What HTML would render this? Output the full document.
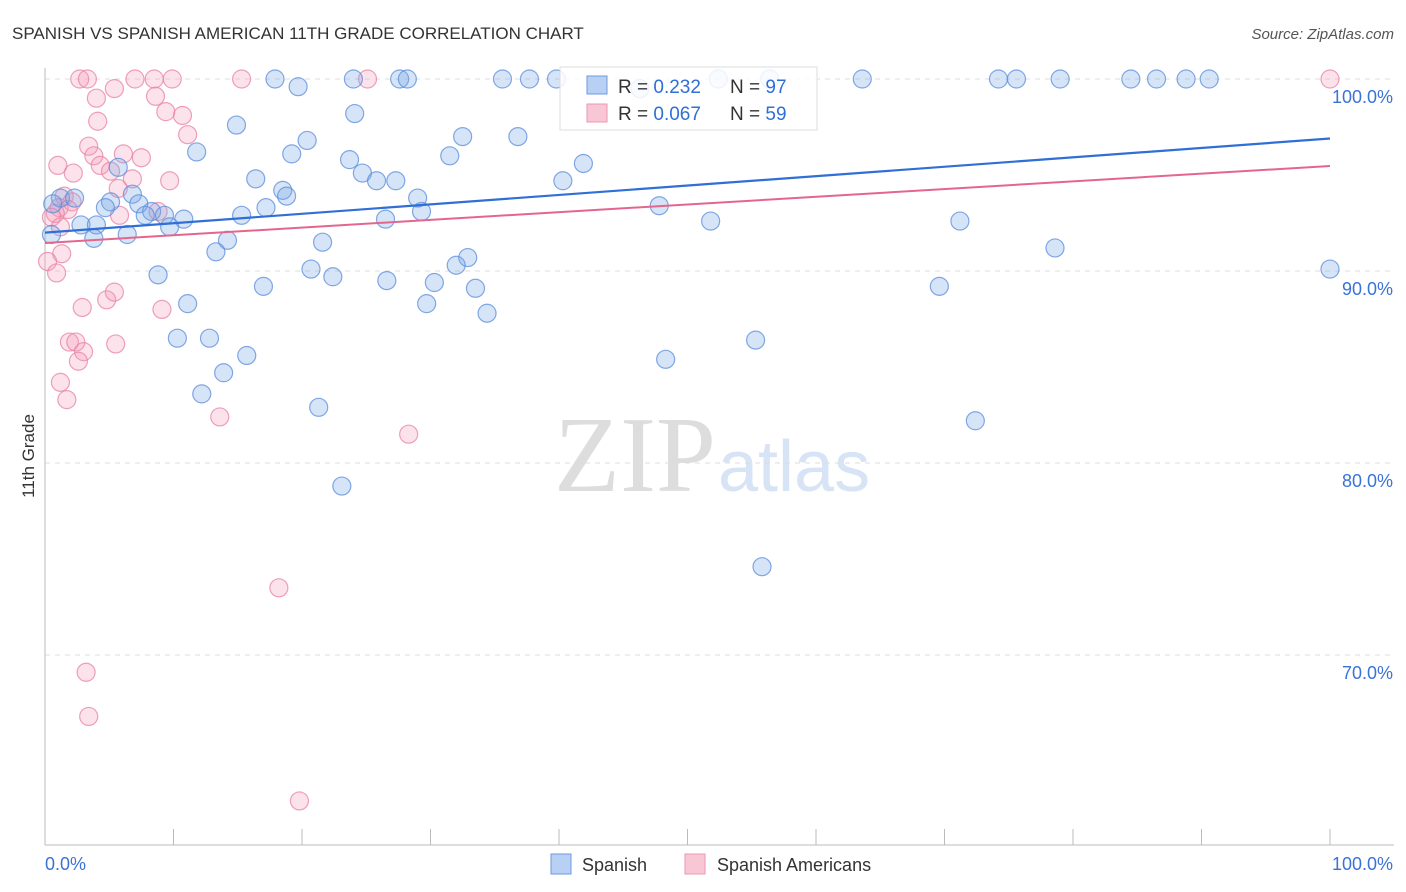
<!DOCTYPE html>
<html><head><meta charset="utf-8"><style>
body{margin:0;background:#fff;font-family:"Liberation Sans",sans-serif}
svg{display:block}
</style></head><body>
<svg id="c" width="1406" height="892">
<text x="12" y="39" font-size="17" fill="#333">SPANISH VS SPANISH AMERICAN 11TH GRADE CORRELATION CHART</text>
<text x="1394" y="39" font-size="15" fill="#555" font-style="italic" text-anchor="end">Source: ZipAtlas.com</text>
<text transform="translate(34,456) rotate(-90)" font-size="17" fill="#333" text-anchor="middle">11th Grade</text>
<text x="716" y="491" font-size="108" fill="#ddd" text-anchor="end" font-family="Liberation Serif,serif">ZIP</text>
<text x="718" y="491" font-size="72" fill="#d7e4f5">atlas</text>
<g id="grid"></g><g id="pts"></g><g id="lines"></g>
<g>
<rect x="560" y="67" width="257" height="63" fill="#fff" fill-opacity="0.85" stroke="#ddd"/>
<rect x="587" y="76" width="20" height="18" fill="#b8d0f3" stroke="#6b9be0"/>
<rect x="587" y="104" width="20" height="18" fill="#f9c6d6" stroke="#ec97b2"/>
<text x="618" y="93" font-size="19" fill="#333">R = <tspan fill="#2f6fd6">0.232</tspan></text>
<text x="730" y="93" font-size="19" fill="#333">N = <tspan fill="#2f6fd6">97</tspan></text>
<text x="618" y="120" font-size="19" fill="#333">R = <tspan fill="#2f6fd6">0.067</tspan></text>
<text x="730" y="120" font-size="19" fill="#333">N = <tspan fill="#2f6fd6">59</tspan></text>
</g>
<g>
<rect x="551" y="854" width="20" height="20" fill="#b8d0f3" stroke="#6b9be0"/>
<text x="582" y="871" font-size="18" fill="#333">Spanish</text>
<rect x="685" y="854" width="20" height="20" fill="#f9c6d6" stroke="#ec97b2"/>
<text x="717" y="871" font-size="18" fill="#333">Spanish Americans</text>
</g>
<text x="45" y="870" font-size="18" fill="#3a72d8">0.0%</text>
<text x="1393" y="870" font-size="18" fill="#3a72d8" text-anchor="end">100.0%</text>
</svg>
<script>
const yTicks=[100,90,80,70];
const xTicks=[0,10,20,30,40,50,60,70,80,90,100];
const blueX=[17.9,19.7,24.0,24.1,27.6,28.2,35.6,37.7,39.8,46.3,52.4,56.4,63.6,74.2,75.6,79.0,84.5,86.5,88.8,90.6,14.9,11.8,19.2,20.4,23.7,32.5,36.8,31.5,41.9,40.3,16.4,18.5,18.8,24.7,25.8,27.3,29.0,29.3,17.2,15.3,26.5,47.8,51.8,71.2,78.6,100,5.7,6.8,7.3,5.1,4.7,1.2,2.3,0.6,8.3,9.3,10.8,9.7,7.8,2.8,4.0,6.4,3.8,0.5,14.2,13.3,21.6,32.9,32.0,20.7,22.4,8.8,26.6,30.3,17.0,33.5,11.1,29.7,34.4,10.3,12.8,15.7,48.3,55.3,13.9,12.2,21.3,72.4,23.1,69.6,55.8];
const blueY=[100,99.6,100,98.2,100,100,100,100,100,99.5,100,100,100,100,100,100,100,100,100,100,97.6,96.2,96.1,96.8,95.8,97.0,97.0,96.0,95.6,94.7,94.8,94.2,93.9,95.1,94.7,94.7,93.8,93.1,93.3,92.9,92.7,93.4,92.6,92.6,91.2,90.1,95.4,94.0,93.5,93.6,93.3,93.8,93.8,93.5,93.1,92.9,92.7,92.3,92.9,92.4,92.4,91.9,91.7,91.9,91.6,91.0,91.5,90.7,90.3,90.1,89.7,89.8,89.5,89.4,89.2,89.1,88.3,88.3,87.8,86.5,86.5,85.6,85.4,86.4,84.7,83.6,82.9,82.2,78.8,89.2,74.6];
const pinkX=[2.7,3.3,7.0,8.5,9.9,15.3,25.1,100,5.4,4.0,8.6,9.4,10.7,4.1,11.1,3.4,6.1,7.5,3.8,1.0,4.3,5.1,2.2,6.8,9.7,5.7,1.5,2.1,1.1,1.8,0.8,0.5,5.8,8.8,1.2,1.3,0.2,0.9,2.9,4.8,5.4,9.1,1.9,2.4,3.0,2.6,5.5,1.2,1.7,13.6,28.3,18.2,3.2,3.4,19.8];
const pinkY=[100,100,100,100,100,100,100,100,99.5,99.0,99.1,98.3,98.1,97.8,97.1,96.5,96.1,95.9,96.0,95.5,95.5,95.2,95.1,94.8,94.7,94.3,93.9,93.6,93.3,93.2,93.0,92.8,92.9,93.1,92.3,90.9,90.5,89.9,88.1,88.5,88.9,88.0,86.3,86.3,85.8,85.3,86.2,84.2,83.3,82.4,81.5,73.5,69.1,66.8,62.4];
const blueTrend=[92.0,96.9];
const pinkTrend=[91.46,95.47];
const NS='http://www.w3.org/2000/svg';
const X=v=>45+v*12.85, Y=v=>79+(100-v)*19.2;
function mk(t,a,p){const e=document.createElementNS(NS,t);for(const k in a)e.setAttribute(k,a[k]);p.appendChild(e);return e;}
const g=document.getElementById('grid');
yTicks.forEach(t=>{
 const l=mk('line',{x1:45,x2:1394,y1:Y(t),y2:Y(t),stroke:'#ddd','stroke-dasharray':'5,5'},g);
 
 
 const tx=mk('text',{x:1393,y:Y(t)+24,'font-size':18,fill:'#3a72d8','text-anchor':'end'},g);
 tx.textContent=t.toFixed(1)+'%';
 
 
});
const ax=mk('line',{x1:45,x2:45,y1:68,y2:845,stroke:'#bbb'},g);


const bx=mk('line',{x1:45,x2:1394,y1:845,y2:845,stroke:'#bbb'},g);


xTicks.forEach(t=>{
 const l=mk('line',{x1:X(t),x2:X(t),y1:829,y2:845,stroke:'#bbb'},g);
 
 
});
const p=document.getElementById('pts');
pinkX.forEach((v,i)=>{
 const c=mk('circle',{cx:X(v),cy:Y(pinkY[i]),r:9,fill:'rgba(244,150,180,0.28)',stroke:'rgba(232,130,165,0.75)','stroke-width':1.2},p);
 
 
});
blueX.forEach((v,i)=>{
 const c=mk('circle',{cx:X(v),cy:Y(blueY[i]),r:9,fill:'rgba(120,165,230,0.3)',stroke:'rgba(90,140,220,0.75)','stroke-width':1.2},p);
 
 
});
const L=document.getElementById('lines');
const tb=mk('line',{x1:X(0),y1:Y(blueTrend[0]),x2:X(100),y2:Y(blueTrend[1]),stroke:'#2f6fd6','stroke-width':2.2},L);


const tp=mk('line',{x1:X(0),y1:Y(pinkTrend[0]),x2:X(100),y2:Y(pinkTrend[1]),stroke:'#e4668e','stroke-width':2},L);


</script>
</body></html>
